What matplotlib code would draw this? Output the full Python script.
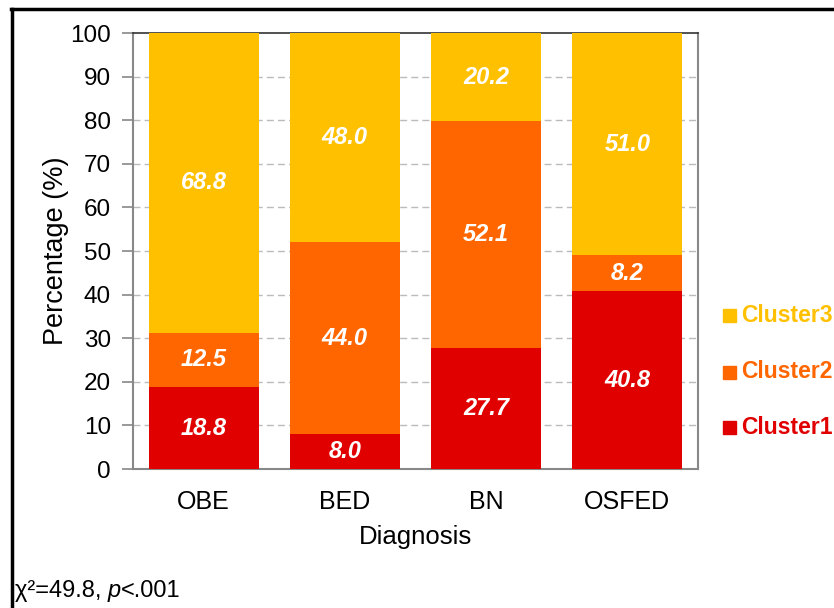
import matplotlib
matplotlib.use("Agg")
import matplotlib.pyplot as plt
from matplotlib.lines import Line2D
from matplotlib.patches import Rectangle
import numpy as np

categories = ["OBE", "BED", "BN", "OSFED"]
cluster1 = [18.8, 8.0, 27.7, 40.8]
cluster2 = [12.5, 44.0, 52.1, 8.2]
cluster3 = [68.8, 48.0, 20.2, 51.0]
series_names = ["Cluster1", "Cluster2", "Cluster3"]
colors = ["#E00000", "#FF6600", "#FFC000"]
yticks = [0, 10, 20, 30, 40, 50, 60, 70, 80, 90, 100]

plt.rcParams['font.family'] = ['Liberation Sans', 'DejaVu Sans']

fig = plt.figure(figsize=(8.34, 6.08), dpi=100)
W, H = 834, 608
ax = fig.add_axes([133 / W, 1 - 469 / H, (698 - 133) / W, (469 - 33) / H])

x = np.arange(len(categories))
bottom = np.zeros(len(categories))
data = [cluster1, cluster2, cluster3]
for vals, col in zip(data, colors):
    vals = np.array(vals)
    ax.bar(x, vals, bottom=bottom, width=0.78, color=col, zorder=3)
    for xi, b, v in zip(x, bottom, vals):
        ax.text(xi, b + v / 2, f"{v:.1f}", ha='center', va='center', color='white',
                fontsize=17, fontweight='bold', fontstyle='italic', zorder=4)
    bottom += vals

ax.set_xlim(-0.5, 3.5)
ax.set_ylim(0, 100)
ax.set_yticks(yticks)
ax.set_yticklabels([str(t) for t in yticks], fontsize=17.5)
ax.set_xticks(x)
ax.set_xticklabels(categories, fontsize=18)
ax.tick_params(axis='x', length=0, pad=15)
ax.tick_params(axis='y', length=8, width=1.2, color='#888888', pad=8, direction='out')
for t in yticks[1:-1]:
    ax.axhline(t, color='#BBBBBB', lw=1, ls=(0, (5, 3)), zorder=1)
for s in ['left', 'right', 'bottom']:
    ax.spines[s].set_color('#888888')
    ax.spines[s].set_linewidth(1.5)
ax.spines['top'].set_color('#333333')
ax.spines['top'].set_linewidth(1.2)

ax.set_ylabel("Percentage (%)", fontsize=19.5, labelpad=1)
ax.set_xlabel("Diagnosis", fontsize=18.5, labelpad=8)

# legend
leg_y = [427, 372, 315]
for name, col, yy in zip(series_names, colors, leg_y):
    fig.add_artist(Rectangle((723 / W, 1 - (yy + 7) / H), 13 / W, 13 / H, color=col,
                             transform=fig.transFigure))
    fig.text(741 / W, 1 - yy / H, name, color=col, fontsize=16.5, fontweight='bold',
             va='center', ha='left')

# border (top and left visible)
fig.add_artist(Line2D([11 / W, 1.01], [1 - 9 / H, 1 - 9 / H], color='black', lw=2.5,
                      transform=fig.transFigure))
fig.add_artist(Line2D([11.5 / W, 11.5 / W], [1 - 9 / H, -0.01], color='black', lw=2.5,
                      transform=fig.transFigure))

# stats text
renderer = fig.canvas.get_renderer()
ty = 1 - 591 / H
t1 = fig.text(15 / W, ty, "\u03C7\u00B2=49.8, ", fontsize=17, va='center', ha='left')
bb = t1.get_window_extent(renderer)
t2 = fig.text(bb.x1 / W, ty, "p", fontsize=17, fontstyle='italic', va='center', ha='left')
bb2 = t2.get_window_extent(renderer)
fig.text(bb2.x1 / W, ty, "<.001", fontsize=17, va='center', ha='left')

fig.savefig("out.png", dpi=100)
